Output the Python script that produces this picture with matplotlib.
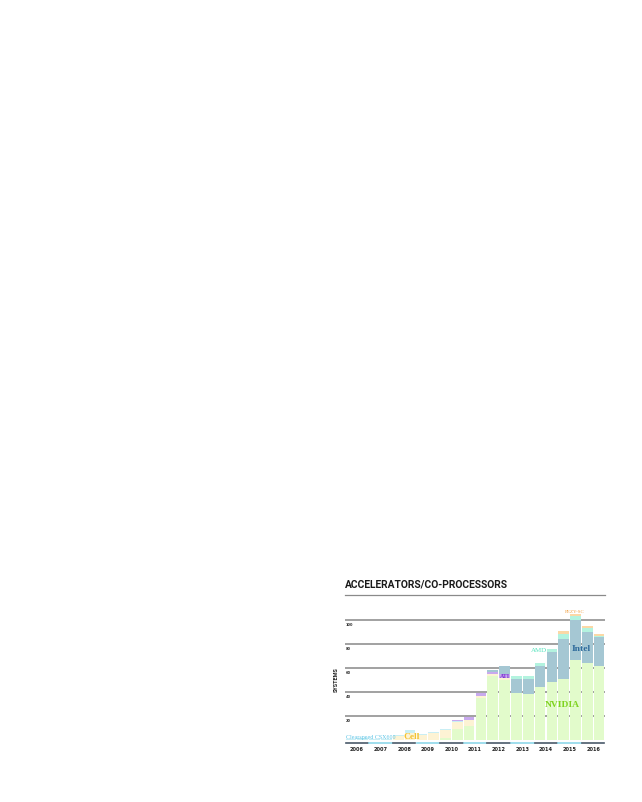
import matplotlib
matplotlib.use("Agg")
import matplotlib.pyplot as plt
import numpy as np
from matplotlib.lines import Line2D

years = ["2006", "2007", "2008", "2009", "2010", "2011", "2012", "2013", "2014", "2015", "2016"]
# two lists per year (June, November)
nvidia     = [0, 0, 0, 0, 0, 0, 0, 0, 2, 9, 12, 35, 53, 50, 39, 38, 44, 48, 51, 67, 64, 62]
cell       = [0, 0, 0, 0, 3, 6, 4, 6, 6, 6, 5, 2, 2, 2, 0, 0, 0, 0, 0, 0, 0, 0]
clearspeed = [1, 2, 1, 1, 1, 2, 1, 1, 1, 1, 0, 0, 0, 0, 0, 0, 0, 0, 0, 0, 0, 0]
ati        = [0, 0, 0, 0, 0, 0, 0, 0, 0, 1, 2, 2, 2, 3, 0, 0, 0, 0, 0, 0, 0, 0]
intel      = [0, 0, 0, 0, 0, 0, 0, 0, 0, 0, 0, 0, 1, 7, 12, 13, 18, 25, 33, 33, 26, 24]
amd        = [0, 0, 0, 0, 0, 0, 0, 0, 0, 0, 0, 0, 0, 0, 2, 2, 2, 3, 4, 3, 3, 1]
pezy       = [0, 0, 0, 0, 0, 0, 0, 0, 0, 0, 0, 0, 0, 0, 0, 0, 0, 0, 3, 2, 2, 1]
yticks = [20, 40, 60, 80, 100]

series = [
    ("NVIDIA", nvidia, "#e2fbcb"),
    ("Cell", cell, "#fdf3d4"),
    ("Clearspeed CSX600", clearspeed, "#c9eef4"),
    ("ATI", ati, "#c8a9ee"),
    ("Intel", intel, "#a5c7d3"),
    ("AMD", amd, "#b3f3df"),
    ("PEZY-SC", pezy, "#fbd8a6"),
]

W, H = 642, 803
fig = plt.figure(figsize=(W / 100, H / 100), dpi=100)
fig.patch.set_facecolor("white")

x0, x1 = 345, 605
ybase, ytop = 741, 597
ax = fig.add_axes([x0 / W, (H - ybase) / H, (x1 - x0) / W, (ybase - ytop) / H])
n = len(nvidia)
x = np.arange(n)
ax.set_xlim(-0.5, n - 0.5)
ax.set_ylim(0, 120)
ax.axis("off")

for v in yticks:
    ax.axhline(v, color="#9a9a9a", lw=1.3, zorder=0)
    ax.text(-0.42, v - 1.6, str(v), fontsize=2.6, va="top", ha="left",
            color="#333333", fontweight="bold")

bottom = np.zeros(n)
for name, vals, col in series:
    vals = np.array(vals, dtype=float)
    ax.bar(x, vals, bottom=bottom, width=0.9, color=col, edgecolor="none", zorder=2)
    bottom += vals

# year underlines and labels
tr = ax.get_xaxis_transform()
for i, yr in enumerate(years):
    c = "#4a5a6a" if i % 2 == 0 else "#8fd8ea"
    ax.add_line(Line2D([2 * i - 0.45, 2 * i + 1.45], [-0.022, -0.022], transform=tr,
                       color=c, lw=1.2, clip_on=False))
    ax.text(2 * i + 0.5, -0.06, yr, transform=tr, ha="center", va="center",
            fontsize=3.6, fontweight="bold", color="#222222", clip_on=False)

# series labels
serif = "Liberation Serif"
ax.text(-0.45, 3.2, "Clearspeed CSX600", fontsize=4.3, color="#5cc4e6",
        family=serif, ha="left", va="center", zorder=3)
ax.text(4.45, 3.5, "Cell", fontsize=6.8, color="#f2c232", fontweight="bold",
        family=serif, ha="left", va="center", zorder=3)
ax.text(13.0, 53.5, "ATI", fontsize=4.3, color="#7a2cd0", fontweight="bold",
        family=serif, ha="center", va="center", zorder=3)
ax.text(15.9, 75.5, "AMD", fontsize=5, color="#55e3bd",
        family=serif, ha="center", va="center", zorder=3)
ax.text(19.5, 76.5, "Intel", fontsize=6.8, color="#2f6b9c", fontweight="bold",
        family=serif, ha="center", va="center", zorder=3)
ax.text(17.9, 30, "NVIDIA", fontsize=6.8, color="#7ed31f", fontweight="bold",
        family=serif, ha="center", va="center", zorder=3)
ax.text(18.95, 107.5, "PEZY-SC", fontsize=3.6, color="#f0a040",
        family=serif, ha="center", va="center", zorder=3)

# title and rule
fig.text(x0 / W, 1 - 585 / H, "ACCELERATORS/CO-PROCESSORS", fontsize=7.4,
         family="Roboto", fontweight="bold", color="#1a1a1a",
         ha="left", va="center")
fig.add_artist(Line2D([x0 / W, x1 / W], [1 - 596 / H, 1 - 596 / H],
                      transform=fig.transFigure, color="#8a8a8a", lw=0.9))

fig.text(336 / W, 1 - 680 / H, "SYSTEMS", rotation=90, fontsize=4.0,
         fontweight="bold", family="Roboto", color="#222222",
         ha="center", va="center")

fig.savefig("out.png", dpi=100, facecolor="white")
